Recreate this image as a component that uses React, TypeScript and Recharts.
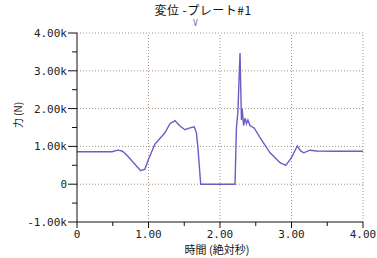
import { Line, LineChart, ReferenceLine, XAxis, YAxis } from "recharts";

const times = [
  0, 0.49, 0.57, 0.63, 0.67, 0.71, 0.81, 0.89, 0.95, 1.0, 1.09, 1.23, 1.3, 1.37,
  1.44, 1.51, 1.58, 1.64, 1.67, 1.69, 1.73, 2.21, 2.23, 2.25, 2.28, 2.3, 2.31,
  2.33, 2.35, 2.37, 2.39, 2.42, 2.48, 2.56, 2.7, 2.84, 2.92, 3.0, 3.08, 3.13,
  3.17, 3.26, 3.35, 3.6, 4.0,
];
const force = [
  860, 860, 900, 880, 820, 740, 530, 360, 400, 660, 1060, 1360, 1600, 1680,
  1540, 1440, 1490, 1520, 1360, 1000, 0, 0, 1500, 1900, 3470, 1700, 2000,
  1550, 1750, 1600, 1700, 1550, 1480, 1230, 830, 570, 500, 700, 1010, 880,
  830, 900, 880, 870, 870,
];
const xTicks = [0, 0.5, 1, 1.5, 2, 2.5, 3, 3.5, 4];
const yTicks = [-1000, -500, 0, 500, 1000, 1500, 2000, 2500, 3000, 3500, 4000];
const xGrid = [1, 2, 3, 4];
const yGrid = [0, 1000, 2000, 3000, 4000];

const data = times.map((t, i) => ({ t, v: force[i] }));

const mono = "'DejaVu Sans Mono', monospace";
const cjk = "'Noto Sans CJK JP', sans-serif";

const fmtY = (v: number) => (v === 0 ? "0" : `${(v / 1000).toFixed(2)}k`);
const fmtX = (v: number) => (v === 0 ? "0" : v.toFixed(2));

function YTick(props: any) {
  const { x, y, payload } = props;
  const major = payload.value % 1000 === 0;
  return (
    <g>
      <line x1={x - (major ? 9 : 5)} x2={x} y1={y} y2={y} stroke="#111" />
      {major && (
        <text x={x - 10} y={y} dy={4} textAnchor="end" fontSize={11} fontFamily={mono} fill="#222">
          {fmtY(payload.value)}
        </text>
      )}
    </g>
  );
}

function XTick(props: any) {
  const { x, y, payload } = props;
  const major = payload.value % 1 === 0;
  return (
    <g>
      <line x1={x} x2={x} y1={y} y2={y + (major ? 6 : 4)} stroke="#111" />
      {major && (
        <text x={x} y={y + 16} textAnchor="middle" fontSize={11} fontFamily={mono} fill="#222">
          {fmtX(payload.value)}
        </text>
      )}
    </g>
  );
}

export default function App() {
  return (
    <div style={{ position: "absolute", left: 0, top: 0, width: 377, height: 258, background: "#fff" }}>
      <LineChart width={377} height={258} data={data} margin={{ top: 33, right: 14, bottom: 0, left: 0 }}>
        <XAxis
          dataKey="t"
          type="number"
          domain={[0, 4]}
          ticks={xTicks}
          interval={0}
          height={36}
          tickSize={0}
          tickMargin={0}
          tickLine={false}
          tick={<XTick />}
          axisLine={{ stroke: "#111" }}
        />
        <YAxis
          type="number"
          domain={[-1000, 4000]}
          ticks={yTicks}
          interval={0}
          width={77}
          tickSize={0}
          tickMargin={0}
          tickLine={false}
          tick={<YTick />}
          axisLine={{ stroke: "#111" }}
        />
        {yGrid.map((v) => (
          <ReferenceLine key={`y${v}`} y={v} stroke="#a8907e" strokeDasharray="1 2" />
        ))}
        {xGrid.map((v) => (
          <ReferenceLine key={`x${v}`} x={v} stroke="#a8907e" strokeDasharray="1 2" />
        ))}
        <Line
          type="linear"
          dataKey="v"
          stroke="#6b5cc8"
          strokeWidth={1.4}
          dot={false}
          isAnimationActive={false}
        />
      </LineChart>
      <div
        style={{
          position: "absolute",
          top: 3,
          left: 0,
          width: 406,
          textAlign: "center",
          fontFamily: cjk,
          fontSize: 12,
          color: "#111",
          lineHeight: "13px",
          letterSpacing: 0.5,
        }}
      >
        変位 -プレート#1
      </div>
      <div
        style={{
          position: "absolute",
          top: 20,
          left: 193,
          fontFamily: mono,
          fontSize: 8,
          lineHeight: "8px",
          color: "#7a5cd0",
        }}
      >
        V
      </div>
      <div
        style={{
          position: "absolute",
          left: 17,
          top: 115,
          transform: "translate(-50%, -50%) rotate(-90deg)",
          whiteSpace: "nowrap",
          fontFamily: cjk,
          fontSize: 10,
          lineHeight: "11px",
          color: "#111",
        }}
      >
        力 (N)
      </div>
      <div
        style={{
          position: "absolute",
          left: 217,
          top: 249,
          transform: "translate(-50%, -50%)",
          whiteSpace: "nowrap",
          fontFamily: cjk,
          fontSize: 11,
          lineHeight: "12px",
          color: "#111",
        }}
      >
        時間 (絶対秒)
      </div>
    </div>
  );
}
